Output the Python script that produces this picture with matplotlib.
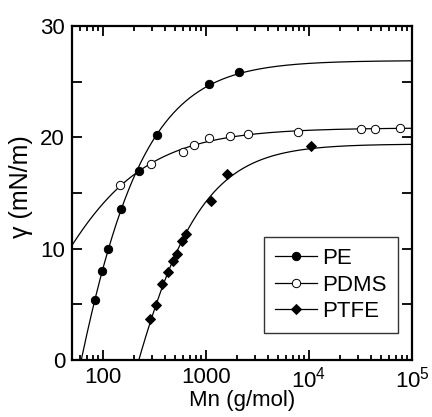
import numpy as np
import matplotlib
matplotlib.use('Agg')
import matplotlib.pyplot as plt
from matplotlib.lines import Line2D
from matplotlib.ticker import FixedLocator, LogLocator, NullFormatter, FuncFormatter

plt.rcParams['font.family'] = ['Liberation Sans', 'DejaVu Sans']
plt.rcParams['mathtext.fontset'] = 'custom'
plt.rcParams['mathtext.rm'] = 'Liberation Sans'

# datos
pe_mn = [84, 97, 112, 151, 222, 337, 1069, 2090]
pe_g = [5.4, 8.0, 10.0, 13.6, 17.0, 20.2, 24.8, 25.9]

pdms_mn = [147, 294, 596, 765, 1081, 1698, 2575, 7820, 32200, 44000, 76400]
pdms_g = [15.7, 17.6, 18.7, 19.3, 19.9, 20.1, 20.3, 20.5, 20.75, 20.75, 20.8]

ptfe_mn = [284, 329, 378, 428, 475, 518, 585, 640, 1130, 1600, 10450]
ptfe_g = [3.7, 4.9, 6.8, 7.9, 8.9, 9.5, 10.7, 11.3, 14.3, 16.7, 19.25]

# curvas de ajuste: meseta y punto donde la curva toca el borde
g_inf = {'PE': 26.9, 'PDMS': 20.85, 'PTFE': 19.4}
borde = {'PE': (61.5, 0.0), 'PDMS': (50, 10.3), 'PTFE': (224, 0.0)}


def ajuste(mn, g, a, ancla):
    # gamma = a - b / (Mn + d)^c ; a fijo, busqueda de c y d, minimos cuadrados para b
    mn = np.append(np.asarray(mn, float), ancla[0])
    y = a - np.append(np.asarray(g, float), ancla[1])
    w = np.ones_like(mn)
    w[-1] = 3.0
    mejor = None
    for d in np.linspace(-45, 400, 179):
        for c in np.linspace(0.3, 3.0, 271):
            x = (mn + d) ** -c
            b = np.sum(w * x * y) / np.sum(w * x * x)
            err = np.sum(w * (b * x - y) ** 2)
            if mejor is None or err < mejor[0]:
                mejor = (err, b, c, d)
    _, b, c, d = mejor
    return lambda m: a - b * (m + d) ** -c


fig = plt.figure(figsize=(4.32, 4.17), dpi=100)
ax = fig.add_axes([0.1667, 0.1367, 0.787, 0.801])

m = np.logspace(np.log10(50), 5, 500)
series = [(pe_mn, pe_g, 'o', 'black', 'PE'),
          (pdms_mn, pdms_g, 'o', 'white', 'PDMS'),
          (ptfe_mn, ptfe_g, 'D', 'black', 'PTFE')]
handles = []
for mn, g, mk, fc, lab in series:
    f = ajuste(mn, g, g_inf[lab], borde[lab])
    ax.plot(m, f(m), color='black', lw=0.9)
    ms = 6 if mk == 'o' else 5.5
    ax.plot(mn, g, linestyle='None', marker=mk, markersize=ms,
            markerfacecolor=fc, markeredgecolor='black', markeredgewidth=0.7)
    handles.append(Line2D([], [], color='black', lw=0.9, marker=mk, markersize=ms,
                          markerfacecolor=fc, markeredgecolor='black',
                          markeredgewidth=0.7, label=lab))

ax.set_xscale('log')
ax.set_xlim(50, 1e5)
ax.set_ylim(0, 30)

ax.yaxis.set_major_locator(FixedLocator([0, 10, 20, 30]))
ax.yaxis.set_minor_locator(FixedLocator([5, 15, 25]))
ax.xaxis.set_major_locator(FixedLocator([100, 1000, 1e4, 1e5]))
ax.xaxis.set_minor_locator(LogLocator(base=10, subs=np.arange(2, 10)))
ax.xaxis.set_minor_formatter(NullFormatter())
etiquetas = {100: '100', 1000: '1000', 1e4: r'$\mathregular{10^4}$', 1e5: r'$\mathregular{10^5}$'}
ax.xaxis.set_major_formatter(FuncFormatter(lambda v, p: etiquetas.get(v, '')))

ax.tick_params(which='both', direction='in', top=True, right=True, labelsize=16, width=1.3)
ax.tick_params(which='major', length=7, pad=5)
ax.tick_params(axis='y', which='minor', length=7)
ax.tick_params(axis='x', which='minor', length=3.5)
for s in ax.spines.values():
    s.set_linewidth(1.6)

ax.set_xlabel('Mn (g/mol)', fontsize=16, labelpad=-2)
ax.set_ylabel('γ (mN/m)', fontsize=18)
ax.yaxis.set_label_coords(-0.115, 0.52)

leg = ax.legend(handles=handles, loc='lower right', bbox_to_anchor=(0.959, 0.08), fontsize=16,
                frameon=True, fancybox=False, edgecolor='black', handlelength=1.9,
                handletextpad=0.25, labelspacing=0.25, borderpad=0.5, borderaxespad=0)
leg.get_frame().set_linewidth(1.0)

fig.savefig('out.png', dpi=100)
